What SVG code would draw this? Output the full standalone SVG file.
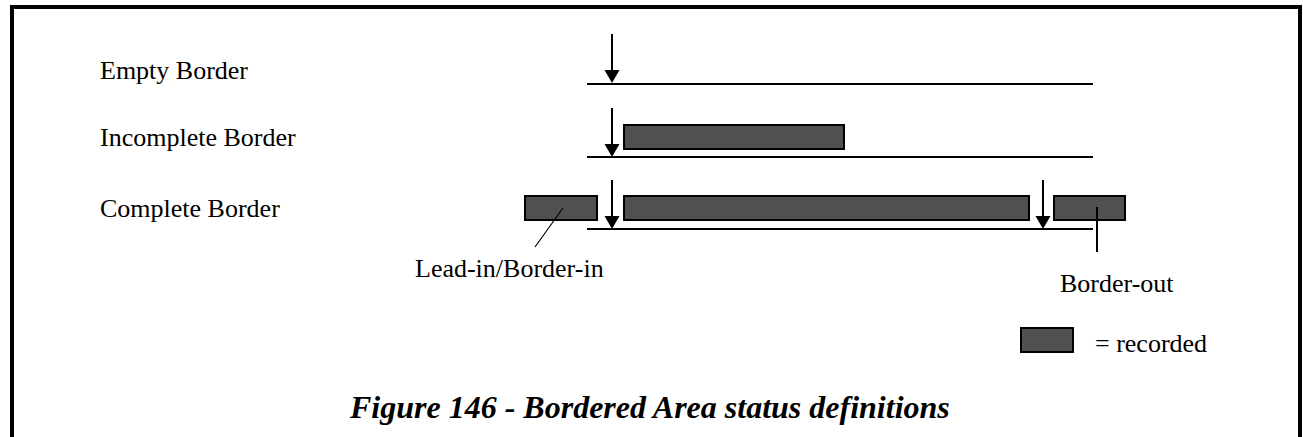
<svg xmlns="http://www.w3.org/2000/svg" width="1303" height="437" viewBox="0 0 1303 437">
<style>
.t{font-family:"Liberation Serif","Times New Roman",serif;font-size:26px;fill:#000}
.title{font-family:"Liberation Serif","Times New Roman",serif;font-size:32px;font-weight:bold;font-style:italic;fill:#000}
.rec{fill:#505050;stroke:#000;stroke-width:2}
.ln{stroke:#000;stroke-width:2;fill:none}
.ah{fill:#000}
</style>
<rect width="1303" height="437" fill="#fff"/>
<path d="M12,437 V7 H1300 V437" fill="none" stroke="#000" stroke-width="4"/>
<g id="labels">
<text class="t" x="100" y="79">Empty Border</text>
<text class="t" x="100" y="146">Incomplete Border</text>
<text class="t" x="100" y="217">Complete Border</text>
<text class="t" x="415" y="277">Lead-in/Border-in</text>
<text class="t" x="1060" y="292">Border-out</text>
<text class="t" x="1095" y="352">= recorded</text>
<text class="title" x="350" y="418">Figure 146 - Bordered Area status definitions</text>
</g>
<g id="empty-border">
<line class="ln" x1="587" y1="84" x2="1093" y2="84"/>
</g>
<g id="incomplete-border">
<line class="ln" x1="587" y1="157" x2="1093" y2="157"/>
<rect class="rec" x="624" y="125" width="220" height="24"/>
</g>
<g id="complete-border">
<line class="ln" x1="587" y1="229" x2="1093" y2="229"/>
<rect class="rec" x="525" y="196" width="72" height="24"/>
<rect class="rec" x="624" y="196" width="405" height="24"/>
<rect class="rec" x="1054" y="196" width="71" height="24"/>
</g>
<g id="legend">
<rect class="rec" x="1021" y="328" width="52" height="24"/>
</g>
<g id="connectors">
<line class="ln" x1="612" y1="34" x2="612" y2="72"/>
<polygon class="ah" points="604.5,70 619.5,70 612,83"/>
<line class="ln" x1="612" y1="108" x2="612" y2="146"/>
<polygon class="ah" points="604.5,144 619.5,144 612,157"/>
<line class="ln" x1="612" y1="180" x2="612" y2="218"/>
<polygon class="ah" points="604.5,216 619.5,216 612,229"/>
<line class="ln" x1="1043" y1="180" x2="1043" y2="218"/>
<polygon class="ah" points="1035.5,216 1050.5,216 1043,229"/>
<line x1="563" y1="208" x2="535" y2="247" stroke="#000" stroke-width="1.2"/>
<line class="ln" x1="1097" y1="207" x2="1097" y2="252"/>
</g>
</svg>
